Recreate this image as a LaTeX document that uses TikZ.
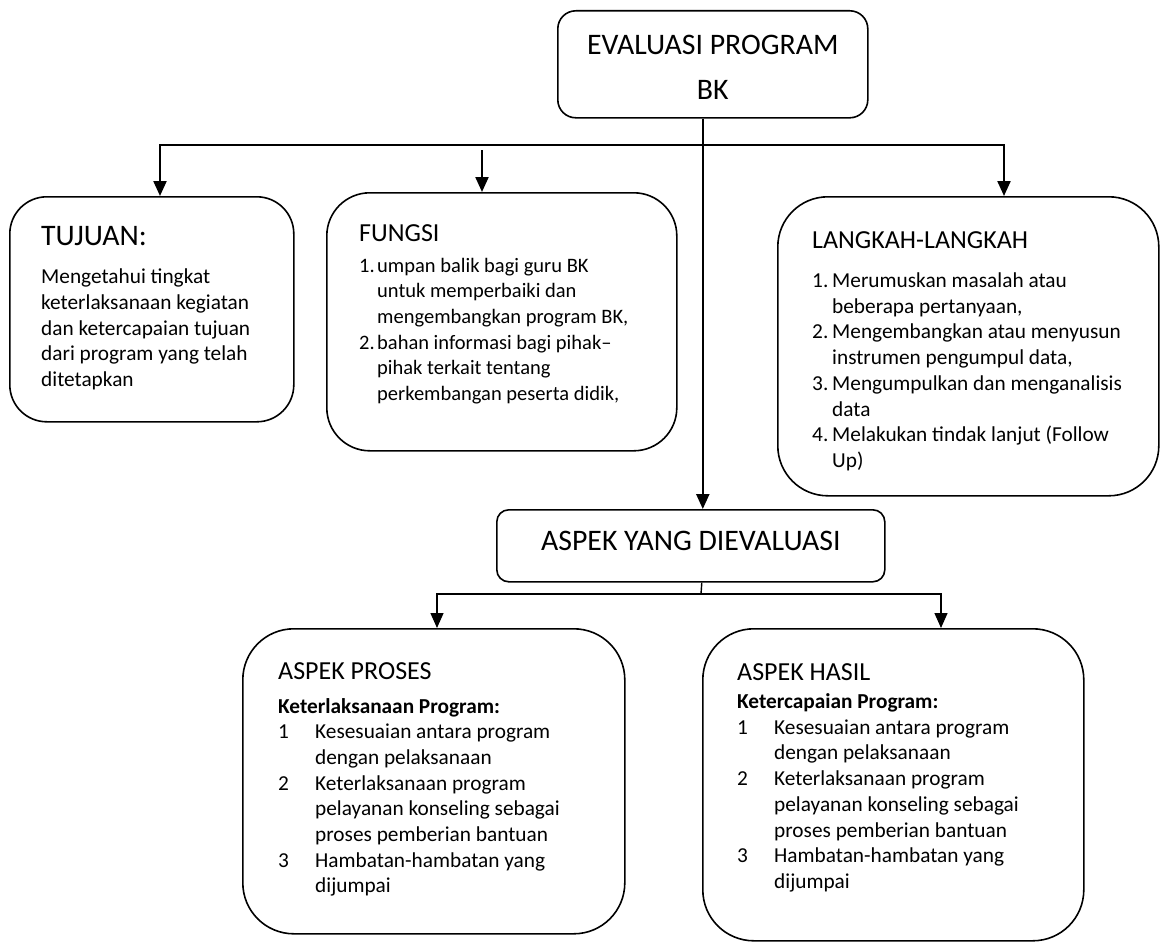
\documentclass[tikz,border=0pt]{standalone}
\usepackage{fontspec}
\setmainfont{Carlito}
\usetikzlibrary{arrows.meta, positioning}

\newcommand{\bigHd}{\fontsize{29.8}{35}\selectfont}
\newcommand{\secHd}{\fontsize{26}{31}\selectfont}
\newcommand{\numbox}[2]{\makebox[#1][l]{#2}}

\begin{document}
\begin{tikzpicture}[
    x=1pt, y=-1pt,
    box/.style={rectangle, rounded corners=#1, draw, line width=1.6pt, inner sep=0pt, anchor=north west},
    txt/.style={align=left, inner sep=0pt, anchor=north west, font=\fontsize{21.3}{25.7}\selectfont},
    arrow/.style={-{Triangle[length=15pt, width=13pt]}, line width=#1},
    arrow/.default=2.2pt,
    link/.style={line width=#1},
    link/.default=2.2pt
]
    \useasboundingbox (0,0) rectangle (1160,942);

    % Boxes
    \node[box=18pt, minimum width=310pt, minimum height=107pt] (evaluasi) at (557,10) {};
    \node[box=37pt, minimum width=284pt, minimum height=225pt] (tujuan) at (9,196) {};
    \node[box=43pt, minimum width=350pt, minimum height=258pt] (fungsi) at (326,192) {};
    \node[box=50pt, minimum width=381pt, minimum height=299pt] (langkah) at (777,196) {};
    \node[box=12pt, minimum width=388pt, minimum height=72pt, text height=18pt, text depth=8pt, font=\bigHd] (aspek) at (496,509) {ASPEK YANG DIEVALUASI};
    \node[box=51pt, minimum width=382pt, minimum height=305pt] (proses) at (242,628) {};
    \node[box=51pt, minimum width=381pt, minimum height=312pt] (hasil) at (702,628) {};

    % Texts
    \node[txt, font=\fontsize{29.8}{45}\selectfont, align=center, below=25pt of evaluasi.north] (evaluasiTxt) {EVALUASI PROGRAM\\BK};
    \node[txt, below right=30.3pt and 32pt of tujuan.north west] (tujuanTxt) {{\bigHd TUJUAN:}\\[12.3pt]
        Mengetahui tingkat\\
        keterlaksanaan kegiatan\\
        dan ketercapaian tujuan\\
        dari program yang telah\\
        ditetapkan};
    \node[txt, font=\fontsize{20.5}{25.7}\selectfont, below right=32pt and 33pt of fungsi.north west] (fungsiTxt) {{\secHd FUNGSI}\\[5.3pt]
        \numbox{18pt}{1.}umpan balik bagi guru BK\\
        \hspace*{18pt}untuk memperbaiki dan\\
        \hspace*{18pt}mengembangkan program BK,\\
        \numbox{18pt}{2.}bahan informasi bagi pihak–\\
        \hspace*{18pt}pihak terkait tentang\\
        \hspace*{18pt}perkembangan peserta didik,};
    \node[txt, below right=35.5pt and 35pt of langkah.north west] (langkahTxt) {{\secHd LANGKAH-LANGKAH}\\[13.3pt]
        \numbox{20pt}{1.}Merumuskan masalah atau\\
        \hspace*{20pt}beberapa pertanyaan,\\
        \numbox{20pt}{2.}Mengembangkan atau menyusun\\
        \hspace*{20pt}instrumen pengumpul data,\\
        \numbox{20pt}{3.}Mengumpulkan dan menganalisis\\
        \hspace*{20pt}data\\
        \numbox{20pt}{4.}Melakukan tindak lanjut (Follow\\
        \hspace*{20pt}Up)};
    \node[txt, below right=34pt and 36pt of proses.north west] (prosesTxt) {{\secHd ASPEK PROSES}\\[8.3pt]
        \textbf{Keterlaksanaan Program:}\\
        \numbox{37pt}{1}Kesesuaian antara program\\
        \hspace*{37pt}dengan pelaksanaan\\
        \numbox{37pt}{2}Keterlaksanaan program\\
        \hspace*{37pt}pelayanan konseling sebagai\\
        \hspace*{37pt}proses pemberian bantuan\\
        \numbox{37pt}{3}Hambatan-hambatan yang\\
        \hspace*{37pt}dijumpai};
    \node[txt, below right=35.5pt and 35pt of hasil.north west] (hasilTxt) {{\secHd ASPEK HASIL}\\[2.3pt]
        \textbf{Ketercapaian Program:}\\
        \numbox{37pt}{1}Kesesuaian antara program\\
        \hspace*{37pt}dengan pelaksanaan\\
        \numbox{37pt}{2}Keterlaksanaan program\\
        \hspace*{37pt}pelayanan konseling sebagai\\
        \hspace*{37pt}proses pemberian bantuan\\
        \numbox{37pt}{3}Hambatan-hambatan yang\\
        \hspace*{37pt}dijumpai};

    % Junctions
    \coordinate (trunkTop) at ([xshift=-10pt]evaluasi.south);
    \coordinate (branchMid) at (702,145);
    \coordinate (branchTujuan) at (160,145);
    \coordinate (branchLangkah) at (1004,145);
    \coordinate (fungsiTop) at (482,150);
    \coordinate (splitTop) at ([xshift=11pt]aspek.south);
    \coordinate (splitMid) at (701,594);
    \coordinate (branchProses) at (437,594);
    \coordinate (branchHasil) at (941,594);

    % Arrows
    \draw[arrow] (trunkTop) -- (trunkTop |- aspek.north);
    \draw[arrow] (branchMid) -| (branchTujuan |- tujuan.north);
    \draw[arrow] (branchMid) -| (branchLangkah |- langkah.north);
    \draw[arrow] (fungsiTop) -- (fungsiTop |- fungsi.north);
    \draw[link=1.4pt] (splitTop) -- (splitMid);
    \draw[arrow=1.4pt] (splitMid) -| (branchProses |- proses.north);
    \draw[arrow=1.4pt] (splitMid) -| (branchHasil |- hasil.north);

\end{tikzpicture}
\end{document}
